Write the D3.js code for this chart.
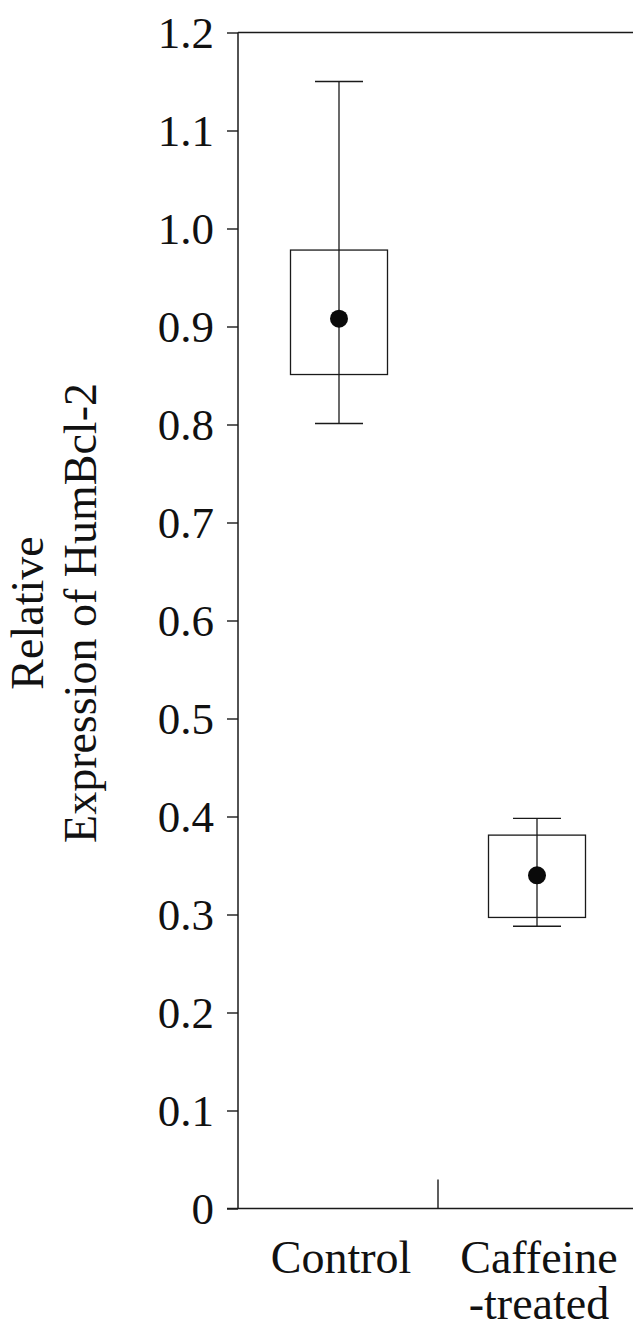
<!DOCTYPE html>
<html>
<head>
<meta charset="utf-8">
<script src="https://cdn.jsdelivr.net/npm/d3@7/dist/d3.min.js"></script>
<style>
  html, body { margin: 0; padding: 0; background: #fff; overflow: hidden; }
  svg { display: block; }
  text { font-family: "Liberation Serif", "Times New Roman", serif; fill: #111; }
</style>
</head>
<body>
<svg id="chart" width="633" height="1329"></svg>
<script>
// Relative HumBcl-2 expression per group: mean (dot), box range, whisker range
const categories = ["Control", "Caffeine"];
const categoryLines = [["Control"], ["Caffeine", "-treated"]];
const means = [0.908, 0.340];
const boxLow = [0.851, 0.297];
const boxHigh = [0.978, 0.381];
const whiskerLow = [0.801, 0.288];
const whiskerHigh = [1.150, 0.398];
const yTicks = [0, 0.1, 0.2, 0.3, 0.4, 0.5, 0.6, 0.7, 0.8, 0.9, 1.0, 1.1, 1.2];
const yTitleLines = ["Relative", "Expression of HumBcl-2"];

const svg = d3.select("#chart");
const ink = "#1a1a1a";

const plot = { left: 238, right: 640, top: 32.5, bottom: 1208.5 };

const y = d3.scaleLinear().domain([0, 1.2]).range([plot.bottom, plot.top]);
const x = d3.scaleBand().domain(categories).range([240, 636]);

// Frame: top border
svg.append("line")
  .attr("x1", plot.left).attr("x2", plot.right)
  .attr("y1", plot.top).attr("y2", plot.top)
  .attr("stroke", ink).attr("stroke-width", 1.4);

// Left axis with outward ticks
const yAxis = d3.axisLeft(y)
  .tickValues(yTicks)
  .tickSize(11)
  .tickPadding(13)
  .tickFormat(d => d === 0 ? "0" : d3.format(".1f")(d));

const gY = svg.append("g")
  .attr("transform", `translate(${plot.left},0)`)
  .call(yAxis);
gY.select(".domain").attr("stroke", ink).attr("stroke-width", 1.5)
  .attr("d", `M0,${plot.top}V${plot.bottom}`);
gY.selectAll(".tick line").attr("stroke", ink).attr("stroke-width", 1.4);
gY.selectAll(".tick text")
  .attr("font-family", "Liberation Serif, serif")
  .attr("font-size", 45)
  .attr("fill", "#111")
  .attr("dy", "0.34em");

// Bottom axis: baseline with an inward divider tick between the groups
svg.append("line")
  .attr("x1", plot.left - 11).attr("x2", plot.right)
  .attr("y1", plot.bottom).attr("y2", plot.bottom)
  .attr("stroke", ink).attr("stroke-width", 1.5);

const dividers = categories.slice(1).map(c => x(c));
svg.selectAll("line.divider")
  .data(dividers)
  .join("line")
  .attr("class", "divider")
  .attr("x1", d => d).attr("x2", d => d)
  .attr("y1", plot.bottom).attr("y2", plot.bottom - 29)
  .attr("stroke", ink).attr("stroke-width", 1.4);

// Category labels
const labelG = svg.selectAll("text.cat")
  .data(categories)
  .join("text")
  .attr("class", "cat")
  .attr("text-anchor", "middle")
  .attr("font-size", 46)
  .attr("x", d => x(d) + x.bandwidth() / 2 + 2)
  .attr("y", 1273);
labelG.selectAll("tspan")
  .data((d, i) => categoryLines[i])
  .join("tspan")
  .attr("x", function () { return d3.select(this.parentNode).attr("x"); })
  .attr("dy", (d, i) => i === 0 ? 0 : 46)
  .text(d => d);

// Y-axis title, two centred lines rotated
const title = svg.append("text")
  .attr("transform", "translate(43,613) rotate(-90)")
  .attr("text-anchor", "middle")
  .attr("font-size", 46);
title.selectAll("tspan")
  .data(yTitleLines)
  .join("tspan")
  .attr("x", 0)
  .attr("dy", (d, i) => i === 0 ? 0 : 53)
  .text(d => d);

// Box-whisker-dot marks
const boxW = 97;
const capW = 48;
const groups = svg.selectAll("g.grp")
  .data(categories.map((c, i) => ({
    c, mean: means[i], lo: boxLow[i], hi: boxHigh[i], wlo: whiskerLow[i], whi: whiskerHigh[i]
  })))
  .join("g")
  .attr("class", "grp")
  .attr("transform", d => `translate(${x(d.c) + x.bandwidth() / 2},0)`);

groups.append("rect")
  .attr("x", -boxW / 2)
  .attr("width", boxW)
  .attr("y", d => y(d.hi))
  .attr("height", d => y(d.lo) - y(d.hi))
  .attr("fill", "none")
  .attr("stroke", ink).attr("stroke-width", 1.3);

groups.append("line")
  .attr("x1", 0).attr("x2", 0)
  .attr("y1", d => y(d.whi)).attr("y2", d => y(d.wlo))
  .attr("stroke", ink).attr("stroke-width", 1.3);

groups.selectAll("line.cap")
  .data(d => [d.whi, d.wlo])
  .join("line")
  .attr("class", "cap")
  .attr("x1", -capW / 2).attr("x2", capW / 2)
  .attr("y1", v => y(v)).attr("y2", v => y(v))
  .attr("stroke", ink).attr("stroke-width", 1.3);

groups.append("circle")
  .attr("cx", 0)
  .attr("cy", d => y(d.mean))
  .attr("r", 9)
  .attr("fill", "#0a0a0a");
</script>
</body>
</html>
